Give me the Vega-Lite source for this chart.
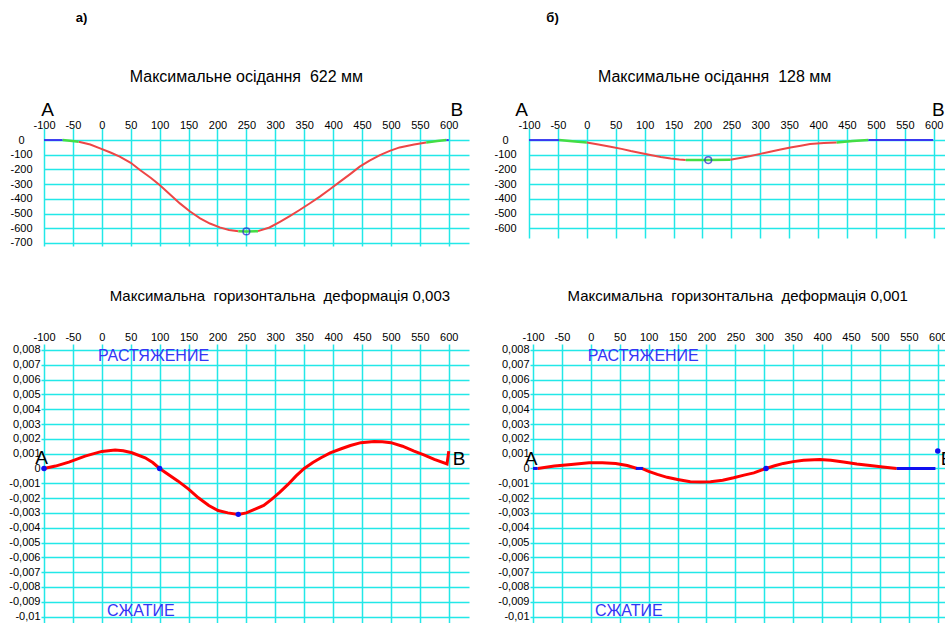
{
  "$schema": "https://vega.github.io/schema/vega-lite/v6.json",
  "background": "white",
  "padding": {"left": 8, "top": 12, "right": 0, "bottom": 0},
  "config": {
    "view": {"stroke": null},
    "axis": {"labelFont": "Liberation Sans", "labelFontSize": 11, "labelColor": "#000000", "gridColor": "#22E8E8", "gridWidth": 1.5, "gridOpacity": 1, "domain": false, "tickColor": "#22E8E8", "tickWidth": 1.5},
    "text": {"font": "Liberation Sans", "baseline": "middle"}
  },
  "datasets": {
    "curves": [
      {"p": "a1", "s": "b1", "k": "b", "x": -100, "y": 0}, {"p": "a1", "s": "b1", "k": "b", "x": -85, "y": 0}, {"p": "a1", "s": "b1", "k": "b", "x": -68, "y": 0},
      {"p": "a1", "s": "g1", "k": "g", "x": -68, "y": 0}, {"p": "a1", "s": "g1", "k": "g", "x": -55, "y": -4}, {"p": "a1", "s": "g1", "k": "g", "x": -40, "y": -12},
      {"p": "a1", "s": "r1", "k": "r", "x": -40, "y": -12}, {"p": "a1", "s": "r1", "k": "r", "x": -20, "y": -30}, {"p": "a1", "s": "r1", "k": "r", "x": -3, "y": -57}, {"p": "a1", "s": "r1", "k": "r", "x": 15, "y": -85}, {"p": "a1", "s": "r1", "k": "r", "x": 31, "y": -113}, {"p": "a1", "s": "r1", "k": "r", "x": 50, "y": -155}, {"p": "a1", "s": "r1", "k": "r", "x": 66, "y": -204}, {"p": "a1", "s": "r1", "k": "r", "x": 85, "y": -258}, {"p": "a1", "s": "r1", "k": "r", "x": 100, "y": -306}, {"p": "a1", "s": "r1", "k": "r", "x": 118, "y": -370}, {"p": "a1", "s": "r1", "k": "r", "x": 135, "y": -431}, {"p": "a1", "s": "r1", "k": "r", "x": 152, "y": -485}, {"p": "a1", "s": "r1", "k": "r", "x": 170, "y": -533}, {"p": "a1", "s": "r1", "k": "r", "x": 187, "y": -568}, {"p": "a1", "s": "r1", "k": "r", "x": 204, "y": -594}, {"p": "a1", "s": "r1", "k": "r", "x": 220, "y": -612}, {"p": "a1", "s": "r1", "k": "r", "x": 236, "y": -620},
      {"p": "a1", "s": "g2", "k": "g", "x": 236, "y": -620}, {"p": "a1", "s": "g2", "k": "g", "x": 250, "y": -622}, {"p": "a1", "s": "g2", "k": "g", "x": 270, "y": -620},
      {"p": "a1", "s": "r2", "k": "r", "x": 270, "y": -620}, {"p": "a1", "s": "r2", "k": "r", "x": 290, "y": -595}, {"p": "a1", "s": "r2", "k": "r", "x": 308, "y": -556}, {"p": "a1", "s": "r2", "k": "r", "x": 325, "y": -518}, {"p": "a1", "s": "r2", "k": "r", "x": 342, "y": -476}, {"p": "a1", "s": "r2", "k": "r", "x": 360, "y": -430}, {"p": "a1", "s": "r2", "k": "r", "x": 377, "y": -385}, {"p": "a1", "s": "r2", "k": "r", "x": 395, "y": -333}, {"p": "a1", "s": "r2", "k": "r", "x": 412, "y": -283}, {"p": "a1", "s": "r2", "k": "r", "x": 430, "y": -230}, {"p": "a1", "s": "r2", "k": "r", "x": 446, "y": -181}, {"p": "a1", "s": "r2", "k": "r", "x": 463, "y": -140}, {"p": "a1", "s": "r2", "k": "r", "x": 481, "y": -102}, {"p": "a1", "s": "r2", "k": "r", "x": 498, "y": -74}, {"p": "a1", "s": "r2", "k": "r", "x": 515, "y": -50}, {"p": "a1", "s": "r2", "k": "r", "x": 540, "y": -30}, {"p": "a1", "s": "r2", "k": "r", "x": 561, "y": -16},
      {"p": "a1", "s": "g3", "k": "g", "x": 561, "y": -16}, {"p": "a1", "s": "g3", "k": "g", "x": 580, "y": -6}, {"p": "a1", "s": "g3", "k": "g", "x": 596, "y": 0},
      {"p": "a1", "s": "b2", "k": "b", "x": 596, "y": 0}, {"p": "a1", "s": "b2", "k": "b", "x": 600, "y": 0},

      {"p": "b1", "s": "b1", "k": "b", "x": -100, "y": 0}, {"p": "b1", "s": "b1", "k": "b", "x": -48, "y": 0},
      {"p": "b1", "s": "g1", "k": "g", "x": -48, "y": 0}, {"p": "b1", "s": "g1", "k": "g", "x": -25, "y": -8}, {"p": "b1", "s": "g1", "k": "g", "x": 0, "y": -16},
      {"p": "b1", "s": "r1", "k": "r", "x": 0, "y": -16}, {"p": "b1", "s": "r1", "k": "r", "x": 20, "y": -30}, {"p": "b1", "s": "r1", "k": "r", "x": 41, "y": -45}, {"p": "b1", "s": "r1", "k": "r", "x": 60, "y": -60}, {"p": "b1", "s": "r1", "k": "r", "x": 76, "y": -75}, {"p": "b1", "s": "r1", "k": "r", "x": 95, "y": -90}, {"p": "b1", "s": "r1", "k": "r", "x": 110, "y": -102}, {"p": "b1", "s": "r1", "k": "r", "x": 128, "y": -115}, {"p": "b1", "s": "r1", "k": "r", "x": 145, "y": -125}, {"p": "b1", "s": "r1", "k": "r", "x": 160, "y": -132}, {"p": "b1", "s": "r1", "k": "r", "x": 171, "y": -135},
      {"p": "b1", "s": "g2", "k": "g", "x": 171, "y": -135}, {"p": "b1", "s": "g2", "k": "g", "x": 210, "y": -136}, {"p": "b1", "s": "g2", "k": "g", "x": 248, "y": -134},
      {"p": "b1", "s": "r2", "k": "r", "x": 248, "y": -134}, {"p": "b1", "s": "r2", "k": "r", "x": 265, "y": -122}, {"p": "b1", "s": "r2", "k": "r", "x": 283, "y": -109}, {"p": "b1", "s": "r2", "k": "r", "x": 300, "y": -94}, {"p": "b1", "s": "r2", "k": "r", "x": 317, "y": -79}, {"p": "b1", "s": "r2", "k": "r", "x": 335, "y": -64}, {"p": "b1", "s": "r2", "k": "r", "x": 352, "y": -50}, {"p": "b1", "s": "r2", "k": "r", "x": 370, "y": -38}, {"p": "b1", "s": "r2", "k": "r", "x": 386, "y": -27}, {"p": "b1", "s": "r2", "k": "r", "x": 410, "y": -20}, {"p": "b1", "s": "r2", "k": "r", "x": 432, "y": -16},
      {"p": "b1", "s": "g3", "k": "g", "x": 432, "y": -16}, {"p": "b1", "s": "g3", "k": "g", "x": 460, "y": -7}, {"p": "b1", "s": "g3", "k": "g", "x": 487, "y": 0},
      {"p": "b1", "s": "b2", "k": "b", "x": 487, "y": 0}, {"p": "b1", "s": "b2", "k": "b", "x": 599, "y": 0},

      {"p": "a2", "s": "r1", "k": "r", "x": -100, "y": 0}, {"p": "a2", "s": "r1", "k": "r", "x": -80, "y": 0.00016}, {"p": "a2", "s": "r1", "k": "r", "x": -57, "y": 0.00043}, {"p": "a2", "s": "r1", "k": "r", "x": -29, "y": 0.00083}, {"p": "a2", "s": "r1", "k": "r", "x": 0, "y": 0.00115}, {"p": "a2", "s": "r1", "k": "r", "x": 23, "y": 0.00124}, {"p": "a2", "s": "r1", "k": "r", "x": 37, "y": 0.0012}, {"p": "a2", "s": "r1", "k": "r", "x": 52, "y": 0.00106}, {"p": "a2", "s": "r1", "k": "r", "x": 75, "y": 0.00072}, {"p": "a2", "s": "r1", "k": "r", "x": 88, "y": 0.0004}, {"p": "a2", "s": "r1", "k": "r", "x": 100, "y": 0}, {"p": "a2", "s": "r1", "k": "r", "x": 132, "y": -0.00086}, {"p": "a2", "s": "r1", "k": "r", "x": 150, "y": -0.0014}, {"p": "a2", "s": "r1", "k": "r", "x": 167, "y": -0.00198}, {"p": "a2", "s": "r1", "k": "r", "x": 185, "y": -0.0025}, {"p": "a2", "s": "r1", "k": "r", "x": 201, "y": -0.00284}, {"p": "a2", "s": "r1", "k": "r", "x": 218, "y": -0.003}, {"p": "a2", "s": "r1", "k": "r", "x": 236, "y": -0.0031}, {"p": "a2", "s": "r1", "k": "r", "x": 250, "y": -0.003}, {"p": "a2", "s": "r1", "k": "r", "x": 264, "y": -0.00277}, {"p": "a2", "s": "r1", "k": "r", "x": 280, "y": -0.0025}, {"p": "a2", "s": "r1", "k": "r", "x": 293, "y": -0.0021}, {"p": "a2", "s": "r1", "k": "r", "x": 308, "y": -0.0016}, {"p": "a2", "s": "r1", "k": "r", "x": 322, "y": -0.00108}, {"p": "a2", "s": "r1", "k": "r", "x": 336, "y": -0.0005}, {"p": "a2", "s": "r1", "k": "r", "x": 350, "y": 0}, {"p": "a2", "s": "r1", "k": "r", "x": 365, "y": 0.0004}, {"p": "a2", "s": "r1", "k": "r", "x": 379, "y": 0.00072}, {"p": "a2", "s": "r1", "k": "r", "x": 395, "y": 0.00105}, {"p": "a2", "s": "r1", "k": "r", "x": 414, "y": 0.00133}, {"p": "a2", "s": "r1", "k": "r", "x": 430, "y": 0.00155}, {"p": "a2", "s": "r1", "k": "r", "x": 448, "y": 0.00174}, {"p": "a2", "s": "r1", "k": "r", "x": 471, "y": 0.00182}, {"p": "a2", "s": "r1", "k": "r", "x": 485, "y": 0.0018}, {"p": "a2", "s": "r1", "k": "r", "x": 500, "y": 0.00174}, {"p": "a2", "s": "r1", "k": "r", "x": 520, "y": 0.0015}, {"p": "a2", "s": "r1", "k": "r", "x": 540, "y": 0.00117}, {"p": "a2", "s": "r1", "k": "r", "x": 558, "y": 0.0009}, {"p": "a2", "s": "r1", "k": "r", "x": 575, "y": 0.00061}, {"p": "a2", "s": "r1", "k": "r", "x": 597, "y": 0.0003}, {"p": "a2", "s": "r1", "k": "r", "x": 600, "y": 0.00117},

      {"p": "b2", "s": "b1", "k": "b", "x": -100, "y": 0}, {"p": "b2", "s": "b1", "k": "b", "x": -92, "y": 0},
      {"p": "b2", "s": "r1", "k": "r", "x": -92, "y": 0}, {"p": "b2", "s": "r1", "k": "r", "x": -63, "y": 0.00016}, {"p": "b2", "s": "r1", "k": "r", "x": -34, "y": 0.00027}, {"p": "b2", "s": "r1", "k": "r", "x": -3, "y": 0.00038}, {"p": "b2", "s": "r1", "k": "r", "x": 20, "y": 0.00038}, {"p": "b2", "s": "r1", "k": "r", "x": 43, "y": 0.00034}, {"p": "b2", "s": "r1", "k": "r", "x": 63, "y": 0.0002}, {"p": "b2", "s": "r1", "k": "r", "x": 80, "y": 0},
      {"p": "b2", "s": "b2", "k": "b", "x": 78, "y": 0}, {"p": "b2", "s": "b2", "k": "b", "x": 90, "y": 0},
      {"p": "b2", "s": "r2", "k": "r", "x": 88, "y": 0}, {"p": "b2", "s": "r2", "k": "r", "x": 100, "y": -0.0002}, {"p": "b2", "s": "r2", "k": "r", "x": 115, "y": -0.0004}, {"p": "b2", "s": "r2", "k": "r", "x": 132, "y": -0.0006}, {"p": "b2", "s": "r2", "k": "r", "x": 150, "y": -0.00074}, {"p": "b2", "s": "r2", "k": "r", "x": 172, "y": -0.0009}, {"p": "b2", "s": "r2", "k": "r", "x": 190, "y": -0.00092}, {"p": "b2", "s": "r2", "k": "r", "x": 207, "y": -0.0009}, {"p": "b2", "s": "r2", "k": "r", "x": 228, "y": -0.0008}, {"p": "b2", "s": "r2", "k": "r", "x": 247, "y": -0.00063}, {"p": "b2", "s": "r2", "k": "r", "x": 265, "y": -0.00045}, {"p": "b2", "s": "r2", "k": "r", "x": 282, "y": -0.0003}, {"p": "b2", "s": "r2", "k": "r", "x": 303, "y": 0},
      {"p": "b2", "s": "r3", "k": "r", "x": 303, "y": 0}, {"p": "b2", "s": "r3", "k": "r", "x": 318, "y": 0.00018}, {"p": "b2", "s": "r3", "k": "r", "x": 333, "y": 0.00034}, {"p": "b2", "s": "r3", "k": "r", "x": 350, "y": 0.00046}, {"p": "b2", "s": "r3", "k": "r", "x": 368, "y": 0.00056}, {"p": "b2", "s": "r3", "k": "r", "x": 396, "y": 0.00061}, {"p": "b2", "s": "r3", "k": "r", "x": 415, "y": 0.00055}, {"p": "b2", "s": "r3", "k": "r", "x": 437, "y": 0.00043}, {"p": "b2", "s": "r3", "k": "r", "x": 460, "y": 0.0003}, {"p": "b2", "s": "r3", "k": "r", "x": 483, "y": 0.0002}, {"p": "b2", "s": "r3", "k": "r", "x": 505, "y": 0.0001}, {"p": "b2", "s": "r3", "k": "r", "x": 529, "y": 0},
      {"p": "b2", "s": "b3", "k": "b", "x": 529, "y": 0}, {"p": "b2", "s": "b3", "k": "b", "x": 596, "y": 0}
    ],
    "points": [
      {"p": "a1", "x": 250, "y": -622},
      {"p": "b1", "x": 210, "y": -136},
      {"p": "a2", "x": -100, "y": 0}, {"p": "a2", "x": 100, "y": 0}, {"p": "a2", "x": 236, "y": -0.0031},
      {"p": "b2", "x": 303, "y": 0}, {"p": "b2", "x": 600, "y": 0.00117}
    ],
    "labels": [
      {"p": "a1", "k": "ab", "t": "A", "x": -94, "y": 204}, {"p": "a1", "k": "ab", "t": "B", "x": 614, "y": 204},
      {"p": "a1", "k": "tag", "t": "а)", "x": -45, "y": 830}, {"p": "a1", "k": "title", "t": "Максимальне осідання \u00a0622 мм", "x": 250, "y": 428},
      {"p": "b1", "k": "ab", "t": "A", "x": -113, "y": 204}, {"p": "b1", "k": "ab", "t": "B", "x": 608, "y": 204},
      {"p": "b1", "k": "tag", "t": "б)", "x": -70, "y": 830}, {"p": "b1", "k": "title", "t": "Максимальне осідання \u00a0128 мм", "x": 221, "y": 428},
      {"p": "a2", "k": "ab", "t": "A", "x": -104, "y": 0.0007}, {"p": "a2", "k": "ab", "t": "B", "x": 618, "y": 0.00063},
      {"p": "a2", "k": "zone", "t": "РАСТЯЖЕНИЕ", "x": -6.6, "y": 0.00759}, {"p": "a2", "k": "zone", "t": "СЖАТИЕ", "x": 9, "y": -0.00962},
      {"p": "a2", "k": "title", "t": "Максимальна \u00a0горизонтальна \u00a0деформація 0,003", "x": 308, "y": 0.01164},
      {"p": "b2", "k": "ab", "t": "A", "x": -103.5, "y": 0.00063}, {"p": "b2", "k": "ab", "t": "B", "x": 616, "y": 0.00063},
      {"p": "b2", "k": "zone", "t": "РАСТЯЖЕНИЕ", "x": -5.4, "y": 0.00759}, {"p": "b2", "k": "zone", "t": "СЖАТИЕ", "x": 7.2, "y": -0.00962},
      {"p": "b2", "k": "title", "t": "Максимальна \u00a0горизонтальна \u00a0деформація 0,001", "x": 254, "y": 0.01164}
    ]
  },
  "vconcat": [
    {
      "hconcat": [
        {
          "width": 425, "height": 118,
          "encoding": {
            "x": {"field": "x", "type": "quantitative", "scale": {"domain": [-100, 635], "nice": false, "zero": false}, "axis": {"orient": "top", "title": null, "values": [-100, -50, 0, 50, 100, 150, 200, 250, 300, 350, 400, 450, 500, 550, 600], "labelExpr": "(datum.value<0?'-':'')+abs(datum.value)", "ticks": false, "tickSize": 0, "labelPadding": -2, "labelOverlap": false, "labelFlush": false, "labelBound": false}},
            "y": {"field": "y", "type": "quantitative", "scale": {"domain": [-721, 82], "nice": false, "zero": false}, "axis": {"title": null, "values": [0, -100, -200, -300, -400, -500, -600, -700], "labelExpr": "(datum.value<0?'-':'')+abs(datum.value)", "ticks": false, "tickSize": 0, "labelAlign": "center", "labelPadding": 23, "labelOverlap": false, "labelFlush": false, "labelBound": false}}
          },
          "layer": [
            {"data": {"name": "curves"}, "transform": [{"filter": "datum.p==='a1' && datum.k==='r'"}], "mark": {"type": "line", "color": "#EE4646", "strokeWidth": 2}, "encoding": {"detail": {"field": "s"}}},
            {"data": {"name": "curves"}, "transform": [{"filter": "datum.p==='a1' && datum.k==='g'"}], "mark": {"type": "line", "color": "#44DD44", "strokeWidth": 2.5}, "encoding": {"detail": {"field": "s"}}},
            {"data": {"name": "curves"}, "transform": [{"filter": "datum.p==='a1' && datum.k==='b'"}], "mark": {"type": "line", "color": "#3838F0", "strokeWidth": 2}, "encoding": {"detail": {"field": "s"}}},
            {"data": {"name": "points"}, "transform": [{"filter": "datum.p==='a1'"}], "mark": {"type": "point", "filled": false, "color": "#2020D0", "size": 45, "strokeWidth": 1.5}},
            {"data": {"name": "labels"}, "transform": [{"filter": "datum.p==='a1' && datum.k==='ab'"}], "mark": {"type": "text", "fontSize": 19, "align": "center", "color": "#000000"}, "encoding": {"text": {"field": "t"}}},
            {"data": {"name": "labels"}, "transform": [{"filter": "datum.p==='a1' && datum.k==='tag'"}], "mark": {"type": "text", "fontSize": 13, "fontWeight": "bold", "align": "left", "color": "#000000"}, "encoding": {"text": {"field": "t"}}},
            {"data": {"name": "labels"}, "transform": [{"filter": "datum.p==='a1' && datum.k==='title'"}], "mark": {"type": "text", "fontSize": 16, "align": "center", "color": "#000000"}, "encoding": {"text": {"field": "t"}}}
          ]
        },
        {
          "width": 425, "height": 110,
          "encoding": {
            "x": {"field": "x", "type": "quantitative", "scale": {"domain": [-100, 635], "nice": false, "zero": false}, "axis": {"orient": "top", "title": null, "values": [-100, -50, 0, 50, 100, 150, 200, 250, 300, 350, 400, 450, 500, 550, 600], "labelExpr": "(datum.value<0?'-':'')+abs(datum.value)", "ticks": false, "tickSize": 0, "labelPadding": -2, "labelOverlap": false, "labelFlush": false, "labelBound": false}},
            "y": {"field": "y", "type": "quantitative", "scale": {"domain": [-666, 82], "nice": false, "zero": false}, "axis": {"title": null, "values": [0, -100, -200, -300, -400, -500, -600], "labelExpr": "(datum.value<0?'-':'')+abs(datum.value)", "ticks": false, "tickSize": 0, "labelAlign": "center", "labelPadding": 24, "labelOverlap": false, "labelFlush": false, "labelBound": false}}
          },
          "layer": [
            {"data": {"name": "curves"}, "transform": [{"filter": "datum.p==='b1' && datum.k==='r'"}], "mark": {"type": "line", "color": "#EE4646", "strokeWidth": 2}, "encoding": {"detail": {"field": "s"}}},
            {"data": {"name": "curves"}, "transform": [{"filter": "datum.p==='b1' && datum.k==='g'"}], "mark": {"type": "line", "color": "#44DD44", "strokeWidth": 2.5}, "encoding": {"detail": {"field": "s"}}},
            {"data": {"name": "curves"}, "transform": [{"filter": "datum.p==='b1' && datum.k==='b'"}], "mark": {"type": "line", "color": "#3838F0", "strokeWidth": 2}, "encoding": {"detail": {"field": "s"}}},
            {"data": {"name": "points"}, "transform": [{"filter": "datum.p==='b1'"}], "mark": {"type": "point", "filled": false, "color": "#2020D0", "size": 45, "strokeWidth": 1.5}},
            {"data": {"name": "labels"}, "transform": [{"filter": "datum.p==='b1' && datum.k==='ab'"}], "mark": {"type": "text", "fontSize": 19, "align": "center", "color": "#000000"}, "encoding": {"text": {"field": "t"}}},
            {"data": {"name": "labels"}, "transform": [{"filter": "datum.p==='b1' && datum.k==='tag'"}], "mark": {"type": "text", "fontSize": 13, "fontWeight": "bold", "align": "left", "color": "#000000"}, "encoding": {"text": {"field": "t"}}},
            {"data": {"name": "labels"}, "transform": [{"filter": "datum.p==='b1' && datum.k==='title'"}], "mark": {"type": "text", "fontSize": 16, "align": "center", "color": "#000000"}, "encoding": {"text": {"field": "t"}}}
          ]
        }
      ],
      "spacing": 60,
      "bounds": "flush"
    },
    {
      "hconcat": [
        {
          "width": 425, "height": 280,
          "encoding": {
            "x": {"field": "x", "type": "quantitative", "scale": {"domain": [-100, 635], "nice": false, "zero": false}, "axis": {"orient": "top", "title": null, "values": [-100, -50, 0, 50, 100, 150, 200, 250, 300, 350, 400, 450, 500, 550, 600], "labelExpr": "(datum.value<0?'-':'')+abs(datum.value)", "ticks": false, "tickSize": 0, "labelPadding": 2, "labelOverlap": false, "labelFlush": false, "labelBound": false}},
            "y": {"field": "y", "type": "quantitative", "scale": {"domain": [-0.0105, 0.0084], "nice": false, "zero": false}, "axis": {"title": null, "values": [0.008, 0.007, 0.006, 0.005, 0.004, 0.003, 0.002, 0.001, 0, -0.001, -0.002, -0.003, -0.004, -0.005, -0.006, -0.007, -0.008, -0.009, -0.01], "labelExpr": "(datum.value<0?'-':'')+replace(format(abs(datum.value),'.3~f'),'.',',')", "ticks": true, "tickSize": 3, "labelPadding": 1, "labelOverlap": false, "labelFlush": false, "labelBound": false}}
          },
          "layer": [
            {"data": {"name": "curves"}, "transform": [{"filter": "datum.p==='a2' && datum.k==='r'"}], "mark": {"type": "line", "color": "#FF0000", "strokeWidth": 3}, "encoding": {"detail": {"field": "s"}}},
            {"data": {"name": "points"}, "transform": [{"filter": "datum.p==='a2'"}], "mark": {"type": "point", "filled": true, "color": "#1010F0", "size": 30, "opacity": 1}},
            {"data": {"name": "labels"}, "transform": [{"filter": "datum.p==='a2' && datum.k==='ab'"}], "mark": {"type": "text", "fontSize": 19, "align": "center", "color": "#000000"}, "encoding": {"text": {"field": "t"}}},
            {"data": {"name": "labels"}, "transform": [{"filter": "datum.p==='a2' && datum.k==='zone'"}], "mark": {"type": "text", "fontSize": 16, "align": "left", "color": "#3535F5"}, "encoding": {"text": {"field": "t"}}},
            {"data": {"name": "labels"}, "transform": [{"filter": "datum.p==='a2' && datum.k==='title'"}], "mark": {"type": "text", "fontSize": 15, "align": "center", "color": "#000000"}, "encoding": {"text": {"field": "t"}}}
          ]
        },
        {
          "width": 425, "height": 280,
          "encoding": {
            "x": {"field": "x", "type": "quantitative", "scale": {"domain": [-100, 635], "nice": false, "zero": false}, "axis": {"orient": "top", "title": null, "values": [-100, -50, 0, 50, 100, 150, 200, 250, 300, 350, 400, 450, 500, 550, 600], "labelExpr": "(datum.value<0?'-':'')+abs(datum.value)", "ticks": false, "tickSize": 0, "labelPadding": 2, "labelOverlap": false, "labelFlush": false, "labelBound": false}},
            "y": {"field": "y", "type": "quantitative", "scale": {"domain": [-0.0105, 0.0084], "nice": false, "zero": false}, "axis": {"title": null, "values": [0.008, 0.007, 0.006, 0.005, 0.004, 0.003, 0.002, 0.001, 0, -0.001, -0.002, -0.003, -0.004, -0.005, -0.006, -0.007, -0.008, -0.009, -0.01], "labelExpr": "(datum.value<0?'-':'')+replace(format(abs(datum.value),'.3~f'),'.',',')", "ticks": true, "tickSize": 3, "labelPadding": 1, "labelOverlap": false, "labelFlush": false, "labelBound": false}}
          },
          "layer": [
            {"data": {"name": "curves"}, "transform": [{"filter": "datum.p==='b2' && datum.k==='r'"}], "mark": {"type": "line", "color": "#FF0000", "strokeWidth": 3}, "encoding": {"detail": {"field": "s"}}},
            {"data": {"name": "curves"}, "transform": [{"filter": "datum.p==='b2' && datum.k==='b'"}], "mark": {"type": "line", "color": "#1010F0", "strokeWidth": 3}, "encoding": {"detail": {"field": "s"}}},
            {"data": {"name": "points"}, "transform": [{"filter": "datum.p==='b2'"}], "mark": {"type": "point", "filled": true, "color": "#1010F0", "size": 30, "opacity": 1}},
            {"data": {"name": "labels"}, "transform": [{"filter": "datum.p==='b2' && datum.k==='ab'"}], "mark": {"type": "text", "fontSize": 19, "align": "center", "color": "#000000"}, "encoding": {"text": {"field": "t"}}},
            {"data": {"name": "labels"}, "transform": [{"filter": "datum.p==='b2' && datum.k==='zone'"}], "mark": {"type": "text", "fontSize": 16, "align": "left", "color": "#3535F5"}, "encoding": {"text": {"field": "t"}}},
            {"data": {"name": "labels"}, "transform": [{"filter": "datum.p==='b2' && datum.k==='title'"}], "mark": {"type": "text", "fontSize": 15, "align": "center", "color": "#000000"}, "encoding": {"text": {"field": "t"}}}
          ]
        }
      ],
      "spacing": 64,
      "bounds": "flush"
    }
  ],
  "spacing": 216,
  "bounds": "flush"
}
